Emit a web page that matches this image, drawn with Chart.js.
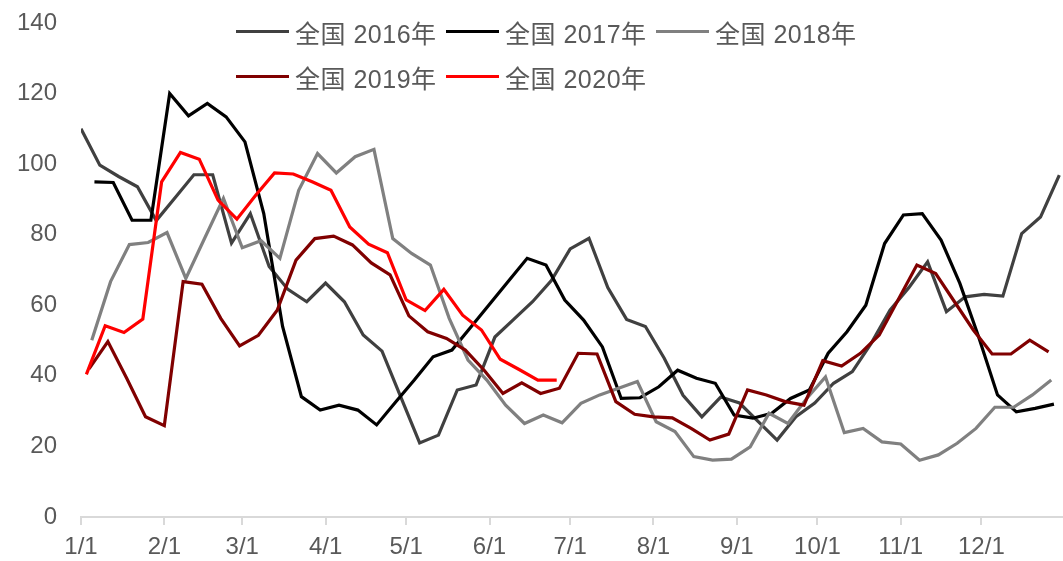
<!DOCTYPE html>
<html lang="zh">
<head>
  <meta charset="UTF-8">
  <title>全国 2016-2020年</title>
  <script src="https://cdn.jsdelivr.net/npm/chart.js"></script>
  <style>
    html, body { margin: 0; padding: 0; background: #fff; }
    #wrap { position: relative; width: 1063px; height: 561px; }
    #legend {
      position: absolute; left: 236px; top: 12px;
      font: 25px "Liberation Sans", Arial, "Noto Sans CJK SC", sans-serif;
      letter-spacing: 0.5px;
      color: #595959;
    }
    .item { position: absolute; display: flex; align-items: center; height: 40px; white-space: nowrap; }
    .swatch { width: 53px; height: 3px; margin-right: 6px; margin-top: -2px; }
  </style>
</head>
<body>
  <div id="wrap">
    <canvas id="myChart" width="1063" height="561"></canvas>
    <div id="legend"></div>
  </div>

  <script>
    // month ticks (day of year) and their labels
    const monthDays = [0, 31, 60, 91, 121, 152, 182, 213, 244, 274, 305, 335];
    const monthLabels = ['1/1', '2/1', '3/1', '4/1', '5/1', '6/1', '7/1', '8/1', '9/1', '10/1', '11/1', '12/1'];

    const seriesNames = ['全国 2016年', '全国 2017年', '全国 2018年', '全国 2019年', '全国 2020年'];
    // first weekly date of each year, as day of year (weekly Friday data)
    const firstDay = [0, 5, 4, 3, 2];

    const v2016 = [110, 99.7, 96.5, 93.6, 84, 90.5, 97, 97, 77.6, 86, 71, 64.5, 61, 66.3, 61, 51.6, 47, 34, 21, 23.2,
      36, 37.4, 51, 56, 61, 67, 76, 79, 65, 56, 54, 45, 34.5, 28.4, 34, 32.3, 27, 21.8, 28.4, 32.3,
      37.9, 41.2, 49.2, 58.6, 65, 72.3, 58.2, 62.4, 63.1, 62.6, 80.3, 85, 96.9];
    const v2017 = [95, 94.8, 84.1, 84.1, 120, 113.7, 117.2, 113.4, 106.3, 86, 54, 34.1, 30.3, 31.7, 30.3, 26.1, 32.5, 38.8, 45.4, 47.3,
      53.8, 60.3, 66.8, 73.3, 71.4, 61.5, 55.8, 48.2, 33.6, 33.8, 36.9, 41.6, 39.3, 37.9, 28.9, 28, 29.4, 33.6, 36, 46.4,
      52.5, 60, 77.5, 85.6, 86, 78.5, 66.2, 51, 34.6, 29.8, 30.8, 32];
    const v2018 = [50.1, 66.7, 77.2, 77.8, 80.6, 67.6, 79, 90.3, 76.3, 78.3, 73.3, 92.6, 103, 97.5, 102.1, 104.2, 78.9, 74.7, 71.4, 56.3,
      44.5, 38.8, 31.7, 26.5, 28.9, 26.7, 32.2, 34.6, 36.5, 38.4, 27, 24.2, 17.1, 16.1, 16.4, 19.9, 29.4, 26.5, 33.6, 39.7,
      23.9, 25.1, 21.3, 20.7, 16.1, 17.6, 20.9, 25.1, 31.1, 31.1, 34.6, 38.8];
    const v2019 = [42, 49.7, 39.3, 28.4, 25.9, 66.7, 66, 56.3, 48.5, 51.5, 58.6, 72.8, 78.9, 79.6, 77.1, 72, 68.6, 57, 52.5, 50.6,
      47.3, 41.6, 35, 38, 35, 36.5, 46.4, 46.2, 32.7, 29.1, 28.4, 28.1, 25.1, 21.8, 23.5, 36, 34.6, 32.7, 31.7, 44.3,
      42.8, 46.4, 51.6, 61.5, 71.4, 69, 61, 53, 46.2, 46.2, 50.1, 46.8];
    const v2020 = [40.4, 54.2, 52.3, 56.1, 95, 103.3, 101.4, 89.8, 84.4, 91.2, 97.5, 97.2, 95, 92.6, 82.2, 77.3, 74.9, 61.5, 58.5, 64.5,
      57.2, 53, 44.7, 41.8, 38.8, 38.8];

    const allValues = [v2016, v2017, v2018, v2019, v2020];
    const colors = ['#404040', '#000000', '#808080', '#800000', '#ff0000'];

    const tickFont = { family: '"Liberation Sans", Arial, "Noto Sans CJK SC", sans-serif', size: 24 };

    const datasets = allValues.map((vals, k) => ({
      label: seriesNames[k],
      data: vals.map((v, i) => ({ x: firstDay[k] + i * 7, y: v })),
      borderColor: colors[k],
      backgroundColor: colors[k],
      borderWidth: 3.2,
      pointRadius: 0,
      tension: 0,
      order: allValues.length - 1 - k // later years drawn on top
    }));

    const ctx = document.getElementById('myChart').getContext('2d');
    const myChart = new Chart(ctx, {
      type: 'line',
      data: { datasets: datasets },
      options: {
        responsive: false,
        animation: false,
        layout: { padding: { top: 23, right: 1, left: 0, bottom: 0 } },
        plugins: {
          legend: { display: false },
          tooltip: { enabled: false }
        },
        scales: {
          x: {
            type: 'linear',
            min: 0,
            max: 365,
            afterBuildTicks: scale => { scale.ticks = monthDays.map(d => ({ value: d })); },
            afterFit: scale => { scale.height = 44; },
            ticks: {
              callback: (value, index) => monthLabels[index],
              autoSkip: false,
              maxRotation: 0,
              padding: 8,
              color: '#595959',
              font: tickFont
            },
            grid: { drawOnChartArea: false, tickLength: 8, color: '#d9d9d9', lineWidth: 2 },
            border: { color: '#d9d9d9', width: 2 }
          },
          y: {
            min: 0,
            max: 140,
            // fixed width; drop the extra top/bottom padding the tick padding adds
            afterFit: scale => { scale.width = 81; scale.paddingTop = 0; scale.paddingBottom = 0; },
            ticks: { stepSize: 20, padding: 24, color: '#595959', font: tickFont },
            grid: { display: false, drawTicks: false },
            border: { display: false }
          }
        }
      }
    });

    // legend laid over the plot, three items per row
    const legend = document.getElementById('legend');
    myChart.data.datasets.forEach((ds, i) => {
      const item = document.createElement('div');
      item.className = 'item';
      item.style.left = (i % 3) * 210 + 'px';
      item.style.top = Math.floor(i / 3) * 45 + 'px';
      const sw = document.createElement('span');
      sw.className = 'swatch';
      sw.style.background = ds.borderColor;
      const txt = document.createElement('span');
      txt.textContent = ds.label;
      item.appendChild(sw);
      item.appendChild(txt);
      legend.appendChild(item);
    });
  </script>
</body>
</html>
